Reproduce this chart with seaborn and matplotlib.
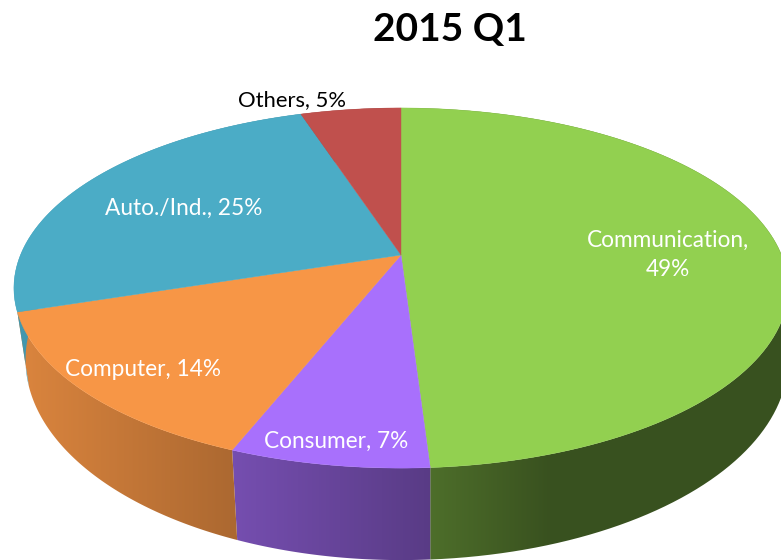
import numpy as np
import seaborn as sns
import matplotlib.pyplot as plt
from matplotlib.patches import Polygon

# Data
categories = ["Communication", "Consumer", "Computer", "Auto./Ind.", "Others"]
shares = [49, 7, 14, 25, 5]
title = "2015 Q1"

# Office style slice colours, same order as categories
slice_colors = sns.color_palette(["#92D050", "#A870FC", "#F79646", "#4BACC6", "#C0504D"])

# Pie geometry, in pixels of the 781x560 picture
APEX_X, APEX_Y = 401, 255
TILT = 0.1834
SCALE_X, SCALE_Y = 380.5, 174.0
WALL_SCALE_Y, WALL_DROP = 193.6, 68
WALL_SHRINK_LEFT = 0.97


def top_xy(angle):
    # Angle runs clockwise from 12 o'clock, the far side of the pie looks smaller
    ux, uy = np.sin(angle), np.cos(angle)
    den = 1 + TILT * uy
    return APEX_X + SCALE_X * ux / den, APEX_Y - SCALE_Y * uy / den


def bottom_xy(angle):
    # Lower rim of the side wall, narrower on the left than on the right
    ux, uy = np.sin(angle), np.cos(angle)
    den = 1 + TILT * uy
    shrink = np.where(ux < 0, WALL_SHRINK_LEFT, 1.0)
    return APEX_X + shrink * SCALE_X * ux / den, APEX_Y + WALL_DROP - WALL_SCALE_Y * uy / den


sns.set_theme(style="white")
plt.rcParams["font.family"] = ["Lato", "DejaVu Sans"]

fig = plt.figure(figsize=(7.81, 5.6), dpi=100)
ax = fig.add_axes([0, 0, 1, 1])

edges = np.cumsum([0] + shares) / sum(shares) * 2 * np.pi

# Side wall darkens from left to right
shade = np.interp(np.arange(781), [25, 230, 430, 550], [0.88, 0.70, 0.53, 0.39])

# Side walls first, the top of the pie goes over them
for i, color in enumerate(slice_colors):
    angles = np.linspace(edges[i], edges[i + 1], 120)
    tx, ty = top_xy(angles)
    bx, by = bottom_xy(angles[::-1])
    gradient = shade[np.newaxis, :, np.newaxis] * np.array(color)
    img = ax.imshow(gradient, extent=(0, 781, 560, 0), aspect="auto", interpolation="bilinear", zorder=1)
    wall = Polygon(np.c_[np.r_[tx, bx], np.r_[ty, by]], closed=True, transform=ax.transData)
    img.set_clip_path(wall)

# Top of the pie
for i, color in enumerate(slice_colors):
    angles = np.linspace(edges[i], edges[i + 1], 120)
    x, y = top_xy(angles)
    ax.fill(np.r_[APEX_X, x], np.r_[APEX_Y, y], color=color, lw=0.3, zorder=2)

ax.set_xlim(0, 781)
ax.set_ylim(560, 0)
ax.axis("off")

ax.text(450, 30, title, fontsize=28, fontweight="bold", color="black", ha="center", va="center")

label_size = 16.3
ax.text(668, 240, f"{categories[0]},", fontsize=label_size, color="white", ha="center", va="center", zorder=3)
ax.text(668, 269, f"{shares[0]}%", fontsize=label_size, color="white", ha="center", va="center", zorder=3)
ax.text(336, 441, f"{categories[1]}, {shares[1]}%", fontsize=label_size, color="white",
        ha="center", va="center", zorder=3)
ax.text(143, 369, f"{categories[2]}, {shares[2]}%", fontsize=label_size, color="white",
        ha="center", va="center", zorder=3)
ax.text(183.5, 208, f"{categories[3]}, {shares[3]}%", fontsize=label_size, color="white",
        ha="center", va="center", zorder=3)
ax.text(292, 100, f"{categories[4]}, {shares[4]}%", fontsize=15.8, color="black",
        ha="center", va="center", zorder=3)

fig.savefig("out.png", dpi=100)
